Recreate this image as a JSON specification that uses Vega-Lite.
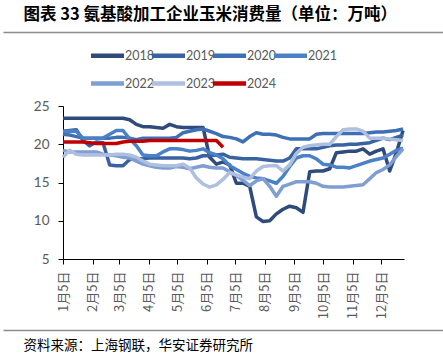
{
"$schema": "https://vega.github.io/schema/vega-lite/v6.json",
"padding": {"left": 0, "top": 6, "right": 0, "bottom": 0},
"spacing": 7,
"config": {"view": {"stroke": null}, "font": "Noto Sans CJK SC"},
"datasets": {"corn": [
{"d":"2023/1/5","s":"2018","v":23.4},{"d":"2023/1/12","s":"2018","v":23.4},{"d":"2023/1/19","s":"2018","v":23.4},{"d":"2023/1/26","s":"2018","v":23.4},{"d":"2023/2/2","s":"2018","v":23.4},{"d":"2023/2/9","s":"2018","v":23.4},{"d":"2023/2/16","s":"2018","v":23.4},{"d":"2023/2/23","s":"2018","v":23.4},{"d":"2023/3/2","s":"2018","v":23.4},{"d":"2023/3/9","s":"2018","v":23.4},{"d":"2023/3/16","s":"2018","v":23.2},{"d":"2023/3/23","s":"2018","v":22.6},{"d":"2023/3/30","s":"2018","v":22.3},{"d":"2023/4/6","s":"2018","v":22.3},{"d":"2023/4/13","s":"2018","v":22.2},{"d":"2023/4/20","s":"2018","v":22.1},{"d":"2023/4/27","s":"2018","v":22.6},{"d":"2023/5/4","s":"2018","v":22.3},{"d":"2023/5/11","s":"2018","v":22.2},{"d":"2023/5/18","s":"2018","v":22.2},{"d":"2023/5/25","s":"2018","v":22.2},{"d":"2023/6/1","s":"2018","v":22.2},{"d":"2023/6/8","s":"2018","v":18.3},{"d":"2023/6/15","s":"2018","v":17.4},{"d":"2023/6/22","s":"2018","v":17.7},{"d":"2023/6/29","s":"2018","v":17.3},{"d":"2023/7/6","s":"2018","v":14.9},{"d":"2023/7/13","s":"2018","v":14.9},{"d":"2023/7/20","s":"2018","v":14.5},{"d":"2023/7/27","s":"2018","v":10.5},{"d":"2023/8/3","s":"2018","v":9.9},{"d":"2023/8/10","s":"2018","v":10.0},{"d":"2023/8/17","s":"2018","v":10.9},{"d":"2023/8/24","s":"2018","v":11.5},{"d":"2023/8/31","s":"2018","v":11.9},{"d":"2023/9/7","s":"2018","v":11.7},{"d":"2023/9/14","s":"2018","v":11.1},{"d":"2023/9/21","s":"2018","v":16.4},{"d":"2023/9/28","s":"2018","v":16.5},{"d":"2023/10/5","s":"2018","v":16.5},{"d":"2023/10/12","s":"2018","v":16.8},{"d":"2023/10/19","s":"2018","v":18.9},{"d":"2023/10/26","s":"2018","v":19.0},{"d":"2023/11/2","s":"2018","v":19.1},{"d":"2023/11/9","s":"2018","v":19.1},{"d":"2023/11/16","s":"2018","v":19.4},{"d":"2023/11/23","s":"2018","v":18.7},{"d":"2023/11/30","s":"2018","v":19.1},{"d":"2023/12/7","s":"2018","v":19.4},{"d":"2023/12/14","s":"2018","v":16.5},{"d":"2023/12/21","s":"2018","v":18.9},{"d":"2023/12/28","s":"2018","v":21.8},
{"d":"2023/1/5","s":"2019","v":21.7},{"d":"2023/1/12","s":"2019","v":21.8},{"d":"2023/1/19","s":"2019","v":21.9},{"d":"2023/1/26","s":"2019","v":20.5},{"d":"2023/2/2","s":"2019","v":19.8},{"d":"2023/2/9","s":"2019","v":20.3},{"d":"2023/2/16","s":"2019","v":20.2},{"d":"2023/2/23","s":"2019","v":17.3},{"d":"2023/3/2","s":"2019","v":17.2},{"d":"2023/3/9","s":"2019","v":17.2},{"d":"2023/3/16","s":"2019","v":18.0},{"d":"2023/3/23","s":"2019","v":18.1},{"d":"2023/3/30","s":"2019","v":18.1},{"d":"2023/4/6","s":"2019","v":18.2},{"d":"2023/4/13","s":"2019","v":18.2},{"d":"2023/4/20","s":"2019","v":18.2},{"d":"2023/4/27","s":"2019","v":18.2},{"d":"2023/5/4","s":"2019","v":18.2},{"d":"2023/5/11","s":"2019","v":18.2},{"d":"2023/5/18","s":"2019","v":18.1},{"d":"2023/5/25","s":"2019","v":18.2},{"d":"2023/6/1","s":"2019","v":18.5},{"d":"2023/6/8","s":"2019","v":18.5},{"d":"2023/6/15","s":"2019","v":18.6},{"d":"2023/6/22","s":"2019","v":18.7},{"d":"2023/6/29","s":"2019","v":18.3},{"d":"2023/7/6","s":"2019","v":18.2},{"d":"2023/7/13","s":"2019","v":18.1},{"d":"2023/7/20","s":"2019","v":18.1},{"d":"2023/7/27","s":"2019","v":18.1},{"d":"2023/8/3","s":"2019","v":18.0},{"d":"2023/8/10","s":"2019","v":17.9},{"d":"2023/8/17","s":"2019","v":17.8},{"d":"2023/8/24","s":"2019","v":17.8},{"d":"2023/8/31","s":"2019","v":18.2},{"d":"2023/9/7","s":"2019","v":19.4},{"d":"2023/9/14","s":"2019","v":19.4},{"d":"2023/9/21","s":"2019","v":19.4},{"d":"2023/9/28","s":"2019","v":19.4},{"d":"2023/10/5","s":"2019","v":19.6},{"d":"2023/10/12","s":"2019","v":19.8},{"d":"2023/10/19","s":"2019","v":19.9},{"d":"2023/10/26","s":"2019","v":19.9},{"d":"2023/11/2","s":"2019","v":20.0},{"d":"2023/11/9","s":"2019","v":20.0},{"d":"2023/11/16","s":"2019","v":20.1},{"d":"2023/11/23","s":"2019","v":20.2},{"d":"2023/11/30","s":"2019","v":20.5},{"d":"2023/12/7","s":"2019","v":20.8},{"d":"2023/12/14","s":"2019","v":20.6},{"d":"2023/12/21","s":"2019","v":20.9},{"d":"2023/12/28","s":"2019","v":21.2},
{"d":"2023/1/5","s":"2020","v":21.3},{"d":"2023/1/12","s":"2020","v":21.2},{"d":"2023/1/19","s":"2020","v":21.0},{"d":"2023/1/26","s":"2020","v":20.8},{"d":"2023/2/2","s":"2020","v":20.8},{"d":"2023/2/9","s":"2020","v":20.8},{"d":"2023/2/16","s":"2020","v":20.8},{"d":"2023/2/23","s":"2020","v":20.8},{"d":"2023/3/2","s":"2020","v":20.9},{"d":"2023/3/9","s":"2020","v":20.9},{"d":"2023/3/16","s":"2020","v":20.8},{"d":"2023/3/23","s":"2020","v":20.6},{"d":"2023/3/30","s":"2020","v":20.8},{"d":"2023/4/6","s":"2020","v":20.8},{"d":"2023/4/13","s":"2020","v":20.8},{"d":"2023/4/20","s":"2020","v":20.8},{"d":"2023/4/27","s":"2020","v":20.8},{"d":"2023/5/4","s":"2020","v":20.9},{"d":"2023/5/11","s":"2020","v":21.5},{"d":"2023/5/18","s":"2020","v":21.7},{"d":"2023/5/25","s":"2020","v":21.9},{"d":"2023/6/1","s":"2020","v":22.0},{"d":"2023/6/8","s":"2020","v":21.7},{"d":"2023/6/15","s":"2020","v":21.4},{"d":"2023/6/22","s":"2020","v":21.0},{"d":"2023/6/29","s":"2020","v":20.9},{"d":"2023/7/6","s":"2020","v":20.7},{"d":"2023/7/13","s":"2020","v":20.3},{"d":"2023/7/20","s":"2020","v":21.0},{"d":"2023/7/27","s":"2020","v":21.5},{"d":"2023/8/3","s":"2020","v":21.3},{"d":"2023/8/10","s":"2020","v":21.3},{"d":"2023/8/17","s":"2020","v":21.2},{"d":"2023/8/24","s":"2020","v":20.9},{"d":"2023/8/31","s":"2020","v":20.7},{"d":"2023/9/7","s":"2020","v":20.7},{"d":"2023/9/14","s":"2020","v":20.7},{"d":"2023/9/21","s":"2020","v":20.7},{"d":"2023/9/28","s":"2020","v":21.3},{"d":"2023/10/5","s":"2020","v":21.4},{"d":"2023/10/12","s":"2020","v":21.4},{"d":"2023/10/19","s":"2020","v":21.4},{"d":"2023/10/26","s":"2020","v":21.4},{"d":"2023/11/2","s":"2020","v":21.4},{"d":"2023/11/9","s":"2020","v":21.4},{"d":"2023/11/16","s":"2020","v":21.4},{"d":"2023/11/23","s":"2020","v":21.5},{"d":"2023/11/30","s":"2020","v":21.6},{"d":"2023/12/7","s":"2020","v":21.6},{"d":"2023/12/14","s":"2020","v":21.7},{"d":"2023/12/21","s":"2020","v":21.8},{"d":"2023/12/28","s":"2020","v":22.0},
{"d":"2023/1/5","s":"2021","v":21.7},{"d":"2023/1/12","s":"2021","v":21.7},{"d":"2023/1/19","s":"2021","v":21.7},{"d":"2023/1/26","s":"2021","v":20.8},{"d":"2023/2/2","s":"2021","v":20.8},{"d":"2023/2/9","s":"2021","v":20.8},{"d":"2023/2/16","s":"2021","v":20.8},{"d":"2023/2/23","s":"2021","v":21.3},{"d":"2023/3/2","s":"2021","v":21.8},{"d":"2023/3/9","s":"2021","v":21.8},{"d":"2023/3/16","s":"2021","v":20.7},{"d":"2023/3/23","s":"2021","v":19.8},{"d":"2023/3/30","s":"2021","v":18.6},{"d":"2023/4/6","s":"2021","v":18.5},{"d":"2023/4/13","s":"2021","v":18.5},{"d":"2023/4/20","s":"2021","v":19.0},{"d":"2023/4/27","s":"2021","v":19.4},{"d":"2023/5/4","s":"2021","v":19.4},{"d":"2023/5/11","s":"2021","v":19.3},{"d":"2023/5/18","s":"2021","v":19.1},{"d":"2023/5/25","s":"2021","v":19.2},{"d":"2023/6/1","s":"2021","v":19.4},{"d":"2023/6/8","s":"2021","v":18.9},{"d":"2023/6/15","s":"2021","v":18.6},{"d":"2023/6/22","s":"2021","v":18.1},{"d":"2023/6/29","s":"2021","v":17.2},{"d":"2023/7/6","s":"2021","v":16.7},{"d":"2023/7/13","s":"2021","v":16.2},{"d":"2023/7/20","s":"2021","v":15.8},{"d":"2023/7/27","s":"2021","v":15.6},{"d":"2023/8/3","s":"2021","v":15.5},{"d":"2023/8/10","s":"2021","v":15.2},{"d":"2023/8/17","s":"2021","v":14.9},{"d":"2023/8/24","s":"2021","v":15.8},{"d":"2023/8/31","s":"2021","v":17.1},{"d":"2023/9/7","s":"2021","v":18.2},{"d":"2023/9/14","s":"2021","v":18.5},{"d":"2023/9/21","s":"2021","v":18.5},{"d":"2023/9/28","s":"2021","v":18.1},{"d":"2023/10/5","s":"2021","v":17.4},{"d":"2023/10/12","s":"2021","v":17.3},{"d":"2023/10/19","s":"2021","v":17.0},{"d":"2023/10/26","s":"2021","v":17.0},{"d":"2023/11/2","s":"2021","v":16.9},{"d":"2023/11/9","s":"2021","v":17.2},{"d":"2023/11/16","s":"2021","v":17.5},{"d":"2023/11/23","s":"2021","v":17.8},{"d":"2023/11/30","s":"2021","v":18.0},{"d":"2023/12/7","s":"2021","v":18.2},{"d":"2023/12/14","s":"2021","v":18.7},{"d":"2023/12/21","s":"2021","v":19.2},{"d":"2023/12/28","s":"2021","v":19.5},
{"d":"2023/1/5","s":"2022","v":19.2},{"d":"2023/1/12","s":"2022","v":19.0},{"d":"2023/1/19","s":"2022","v":19.0},{"d":"2023/1/26","s":"2022","v":19.0},{"d":"2023/2/2","s":"2022","v":19.0},{"d":"2023/2/9","s":"2022","v":19.0},{"d":"2023/2/16","s":"2022","v":18.7},{"d":"2023/2/23","s":"2022","v":18.6},{"d":"2023/3/2","s":"2022","v":18.5},{"d":"2023/3/9","s":"2022","v":18.3},{"d":"2023/3/16","s":"2022","v":18.2},{"d":"2023/3/23","s":"2022","v":17.8},{"d":"2023/3/30","s":"2022","v":17.4},{"d":"2023/4/6","s":"2022","v":17.2},{"d":"2023/4/13","s":"2022","v":17.0},{"d":"2023/4/20","s":"2022","v":16.9},{"d":"2023/4/27","s":"2022","v":16.9},{"d":"2023/5/4","s":"2022","v":17.1},{"d":"2023/5/11","s":"2022","v":17.0},{"d":"2023/5/18","s":"2022","v":16.8},{"d":"2023/5/25","s":"2022","v":17.0},{"d":"2023/6/1","s":"2022","v":17.2},{"d":"2023/6/8","s":"2022","v":17.0},{"d":"2023/6/15","s":"2022","v":16.9},{"d":"2023/6/22","s":"2022","v":16.9},{"d":"2023/6/29","s":"2022","v":16.4},{"d":"2023/7/6","s":"2022","v":15.9},{"d":"2023/7/13","s":"2022","v":15.3},{"d":"2023/7/20","s":"2022","v":14.6},{"d":"2023/7/27","s":"2022","v":15.2},{"d":"2023/8/3","s":"2022","v":15.5},{"d":"2023/8/10","s":"2022","v":14.5},{"d":"2023/8/17","s":"2022","v":13.2},{"d":"2023/8/24","s":"2022","v":14.5},{"d":"2023/8/31","s":"2022","v":14.8},{"d":"2023/9/7","s":"2022","v":15.1},{"d":"2023/9/14","s":"2022","v":15.1},{"d":"2023/9/21","s":"2022","v":15.1},{"d":"2023/9/28","s":"2022","v":14.9},{"d":"2023/10/5","s":"2022","v":14.5},{"d":"2023/10/12","s":"2022","v":14.4},{"d":"2023/10/19","s":"2022","v":14.4},{"d":"2023/10/26","s":"2022","v":14.4},{"d":"2023/11/2","s":"2022","v":14.5},{"d":"2023/11/9","s":"2022","v":14.6},{"d":"2023/11/16","s":"2022","v":14.7},{"d":"2023/11/23","s":"2022","v":15.5},{"d":"2023/11/30","s":"2022","v":16.3},{"d":"2023/12/7","s":"2022","v":16.7},{"d":"2023/12/14","s":"2022","v":17.3},{"d":"2023/12/21","s":"2022","v":18.4},{"d":"2023/12/28","s":"2022","v":19.4},
{"d":"2023/1/5","s":"2023","v":18.3},{"d":"2023/1/12","s":"2023","v":19.2},{"d":"2023/1/19","s":"2023","v":18.7},{"d":"2023/1/26","s":"2023","v":18.6},{"d":"2023/2/2","s":"2023","v":18.6},{"d":"2023/2/9","s":"2023","v":18.6},{"d":"2023/2/16","s":"2023","v":18.6},{"d":"2023/2/23","s":"2023","v":18.6},{"d":"2023/3/2","s":"2023","v":18.7},{"d":"2023/3/9","s":"2023","v":18.7},{"d":"2023/3/16","s":"2023","v":18.6},{"d":"2023/3/23","s":"2023","v":18.3},{"d":"2023/3/30","s":"2023","v":17.8},{"d":"2023/4/6","s":"2023","v":17.4},{"d":"2023/4/13","s":"2023","v":17.3},{"d":"2023/4/20","s":"2023","v":17.2},{"d":"2023/4/27","s":"2023","v":17.2},{"d":"2023/5/4","s":"2023","v":17.2},{"d":"2023/5/11","s":"2023","v":17.4},{"d":"2023/5/18","s":"2023","v":16.9},{"d":"2023/5/25","s":"2023","v":15.6},{"d":"2023/6/1","s":"2023","v":14.8},{"d":"2023/6/8","s":"2023","v":14.4},{"d":"2023/6/15","s":"2023","v":14.7},{"d":"2023/6/22","s":"2023","v":15.4},{"d":"2023/6/29","s":"2023","v":16.3},{"d":"2023/7/6","s":"2023","v":16.0},{"d":"2023/7/13","s":"2023","v":15.7},{"d":"2023/7/20","s":"2023","v":15.5},{"d":"2023/7/27","s":"2023","v":16.5},{"d":"2023/8/3","s":"2023","v":17.1},{"d":"2023/8/10","s":"2023","v":17.2},{"d":"2023/8/17","s":"2023","v":17.2},{"d":"2023/8/24","s":"2023","v":16.5},{"d":"2023/8/31","s":"2023","v":17.3},{"d":"2023/9/7","s":"2023","v":18.8},{"d":"2023/9/14","s":"2023","v":19.6},{"d":"2023/9/21","s":"2023","v":19.8},{"d":"2023/9/28","s":"2023","v":19.9},{"d":"2023/10/5","s":"2023","v":20.0},{"d":"2023/10/12","s":"2023","v":20.0},{"d":"2023/10/19","s":"2023","v":21.0},{"d":"2023/10/26","s":"2023","v":21.9},{"d":"2023/11/2","s":"2023","v":22.0},{"d":"2023/11/9","s":"2023","v":22.0},{"d":"2023/11/16","s":"2023","v":21.7},{"d":"2023/11/23","s":"2023","v":20.8},{"d":"2023/11/30","s":"2023","v":20.8},{"d":"2023/12/7","s":"2023","v":20.8},{"d":"2023/12/14","s":"2023","v":20.7},{"d":"2023/12/21","s":"2023","v":20.6},{"d":"2023/12/28","s":"2023","v":20.5},
{"d":"2023/1/5","s":"2024","v":20.3},{"d":"2023/1/12","s":"2024","v":20.3},{"d":"2023/1/19","s":"2024","v":20.3},{"d":"2023/1/26","s":"2024","v":20.3},{"d":"2023/2/2","s":"2024","v":20.2},{"d":"2023/2/9","s":"2024","v":20.1},{"d":"2023/2/16","s":"2024","v":20.1},{"d":"2023/2/23","s":"2024","v":20.1},{"d":"2023/3/2","s":"2024","v":20.1},{"d":"2023/3/9","s":"2024","v":20.3},{"d":"2023/3/16","s":"2024","v":20.4},{"d":"2023/3/23","s":"2024","v":20.4},{"d":"2023/3/30","s":"2024","v":20.4},{"d":"2023/4/6","s":"2024","v":20.5},{"d":"2023/4/13","s":"2024","v":20.5},{"d":"2023/4/20","s":"2024","v":20.5},{"d":"2023/4/27","s":"2024","v":20.5},{"d":"2023/5/4","s":"2024","v":20.5},{"d":"2023/5/11","s":"2024","v":20.5},{"d":"2023/5/18","s":"2024","v":20.5},{"d":"2023/5/25","s":"2024","v":20.5},{"d":"2023/6/1","s":"2024","v":20.5},{"d":"2023/6/8","s":"2024","v":20.5},{"d":"2023/6/15","s":"2024","v":20.5},{"d":"2023/6/22","s":"2024","v":19.6}
]},
"vconcat": [
{
"width": 443, "height": 60,
"data": {"name": "corn"},
"mark": {"type": "line", "clip": true},
"encoding": {
"x": {"field": "d", "type": "temporal",
 "axis": {"orient": "top", "domain": true, "domainColor": "#8c8c8c", "domainWidth": 1.5, "ticks": false, "labels": false, "grid": false,
  "title": "图表 33 氨基酸加工企业玉米消费量（单位：万吨）", "titleAnchor": "start", "titleAlign": "left", "titleX": 20, "titleY": -10, "titleBaseline": "bottom",
  "titleFont": "Noto Sans CJK SC", "titleFontSize": 16.5, "titleFontWeight": "bold", "titleColor": "#000000"}},
"y": {"field": "v", "type": "quantitative", "axis": null, "scale": {"domain": [100, 200]}},
"color": {"field": "s", "type": "nominal",
 "scale": {"domain": ["2018","2019","2020","2021","2022","2023","2024"], "range": ["#2E4B7C","#3862A0","#3E70B5","#4A81C7","#7F9ED1","#AEBFE0","#C00000"]},
 "legend": {"title": null, "orient": "none", "legendX": 92, "legendY": 11, "direction": "horizontal", "columns": 4, "padding": 0,
  "symbolType": "M-1.65,0H1.65", "symbolSize": 400, "symbolStrokeWidth": 4.5, "labelFont": "Lato", "labelFontSize": 12.5, "labelColor": "#595959",
  "labelOffset": 5, "columnPadding": -11, "rowPadding": 6}}
}
},
{
"spacing": 0,
"hconcat": [
{
"width": 1, "height": 1,
"data": {"values": [{}]},
"mark": {"type": "point", "opacity": 0},
"encoding": {}
},
{
"width": 341, "height": 153,
"data": {"name": "corn"},
"mark": {"type": "line", "strokeWidth": 3.5, "strokeJoin": "round"},
"encoding": {
"x": {"field": "d", "type": "temporal",
 "scale": {"domain": [{"year": 2023, "month": 1, "date": 5}, {"year": 2023, "month": 12, "date": 29}]},
 "axis": {"title": null, "grid": false, "format": "%-m月%-d日", "labelAngle": -90,
  "values": [{"year":2023,"month":1,"date":5},{"year":2023,"month":2,"date":5},{"year":2023,"month":3,"date":5},{"year":2023,"month":4,"date":5},{"year":2023,"month":5,"date":5},{"year":2023,"month":6,"date":5},{"year":2023,"month":7,"date":5},{"year":2023,"month":8,"date":5},{"year":2023,"month":9,"date":5},{"year":2023,"month":10,"date":5},{"year":2023,"month":11,"date":5},{"year":2023,"month":12,"date":5}],
  "labelFont": "Noto Sans CJK SC", "labelFontSize": 13, "labelColor": "#595959", "labelPadding": 7,
  "labelOverlap": false, "labelFlush": false, "labelBound": false,
  "domainColor": "#000000", "domainWidth": 1, "tickColor": "#000000", "tickSize": 5}},
"y": {"field": "v", "type": "quantitative",
 "scale": {"domain": [5, 25], "nice": false, "zero": false},
 "axis": {"title": null, "grid": false, "values": [5, 10, 15, 20, 25],
  "labelFont": "Lato", "labelFontSize": 13.5, "labelColor": "#595959", "labelPadding": 9,
  "domainColor": "#000000", "tickColor": "#000000", "tickSize": 5, "minExtent": 56}},
"color": {"field": "s", "type": "nominal",
 "scale": {"domain": ["2018","2019","2020","2021","2022","2023","2024"], "range": ["#2E4B7C","#3862A0","#3E70B5","#4A81C7","#7F9ED1","#AEBFE0","#C00000"]},
 "legend": null}
}
}
]
},
{
"width": 443, "height": 1,
"data": {"name": "corn"},
"mark": {"type": "point", "opacity": 0},
"encoding": {
"x": {"field": "d", "type": "temporal",
 "axis": {"orient": "bottom", "domain": true, "domainColor": "#8c8c8c", "domainWidth": 1.5, "ticks": false, "labels": false, "grid": false,
  "title": "资料来源：上海钢联，华安证券研究所", "titleAnchor": "start", "titleAlign": "left", "titleX": 20, "titleY": 8, "titleBaseline": "top",
  "titleFont": "Noto Sans CJK SC", "titleFontSize": 13.5, "titleFontWeight": "normal", "titleColor": "#000000"}}
}
}
]
}
